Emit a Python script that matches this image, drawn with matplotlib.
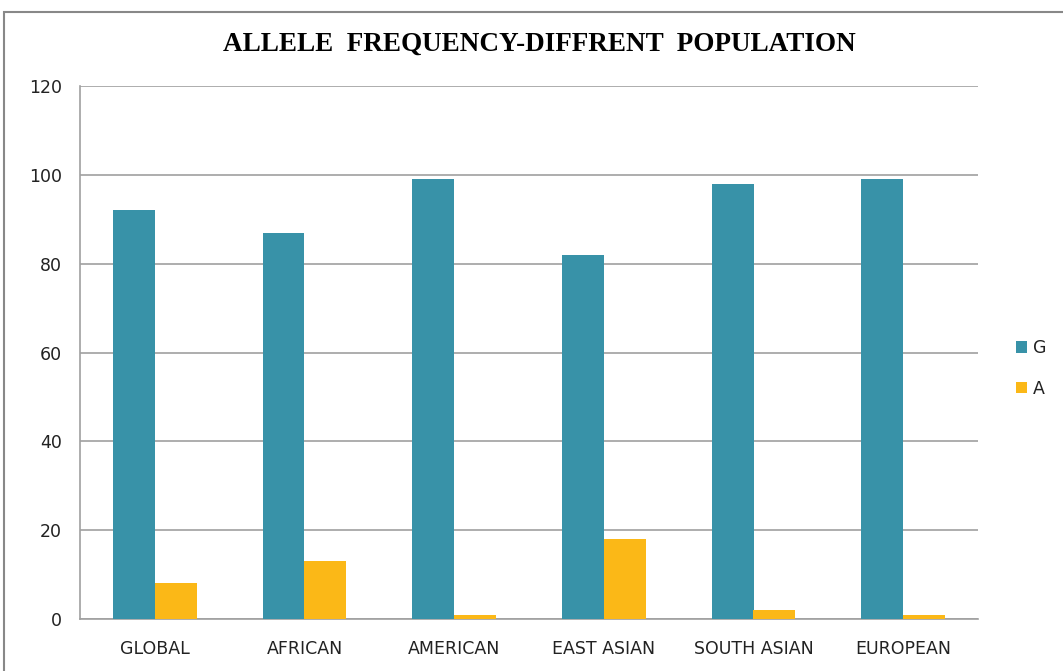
import matplotlib
matplotlib.use('Agg')
import matplotlib.pyplot as plt
import numpy as np
from matplotlib.patches import Rectangle

populations = ['GLOBAL', 'AFRICAN', 'AMERICAN', 'EAST ASIAN', 'SOUTH ASIAN', 'EUROPEAN']
g_values = [92, 87, 99, 82, 98, 99]
a_values = [8, 13, 1, 18, 2, 1]
y_ticks = [0, 20, 40, 60, 80, 100, 120]

teal = '#3892a8'
yellow = '#fbb817'
grid_col = '#a0a0a0'

fig = plt.figure(figsize=(10.63, 6.71), dpi=100)
ax = fig.add_axes([80 / 1063, 1 - 619 / 671, (978 - 80) / 1063, (619 - 86) / 671])

# outer chart border
fig.patches.append(Rectangle((4 / 1063, -0.01), 1.2, 1 - 12 / 671 + 0.01,
                             transform=fig.transFigure, fill=False,
                             edgecolor='#888888', linewidth=1.5))

x = np.arange(len(populations))
w = 0.28
ax.bar(x - w / 2, g_values, w, color=teal, label='G', zorder=3)
ax.bar(x + w / 2, a_values, w, color=yellow, label='A', zorder=3)

ax.set_xlim(-0.5, len(populations) - 0.5)
ax.set_ylim(0, 120)
ax.set_yticks(y_ticks)
ax.set_xticks(x)
ax.set_xticklabels(populations)
ax.yaxis.grid(True, color=grid_col, linewidth=1.2, zorder=0)
ax.tick_params(axis='both', length=0, labelsize=12.5, colors='#222222')
ax.tick_params(axis='y', pad=13)
ax.tick_params(axis='x', pad=15)
for lbl in ax.get_xticklabels() + ax.get_yticklabels():
    lbl.set_family('DejaVu Sans')
for s in ['top', 'right']:
    ax.spines[s].set_visible(False)
for s in ['left', 'bottom']:
    ax.spines[s].set_color(grid_col)
    ax.spines[s].set_linewidth(1.2)

fig.text(539 / 1063, 1 - 44 / 671, 'ALLELE  FREQUENCY-DIFFRENT  POPULATION',
         ha='center', va='center', family='Liberation Serif', weight='bold',
         fontsize=19.5)

leg = ax.legend(loc='center left', bbox_to_anchor=(1.025, 0.47), frameon=False,
                prop={'family': 'DejaVu Sans', 'size': 12.5}, handlelength=0.65,
                handleheight=0.65, handletextpad=0.3, labelspacing=1.3)
for t in leg.get_texts():
    t.set_color('#222222')

fig.savefig('out.png', dpi=100)
